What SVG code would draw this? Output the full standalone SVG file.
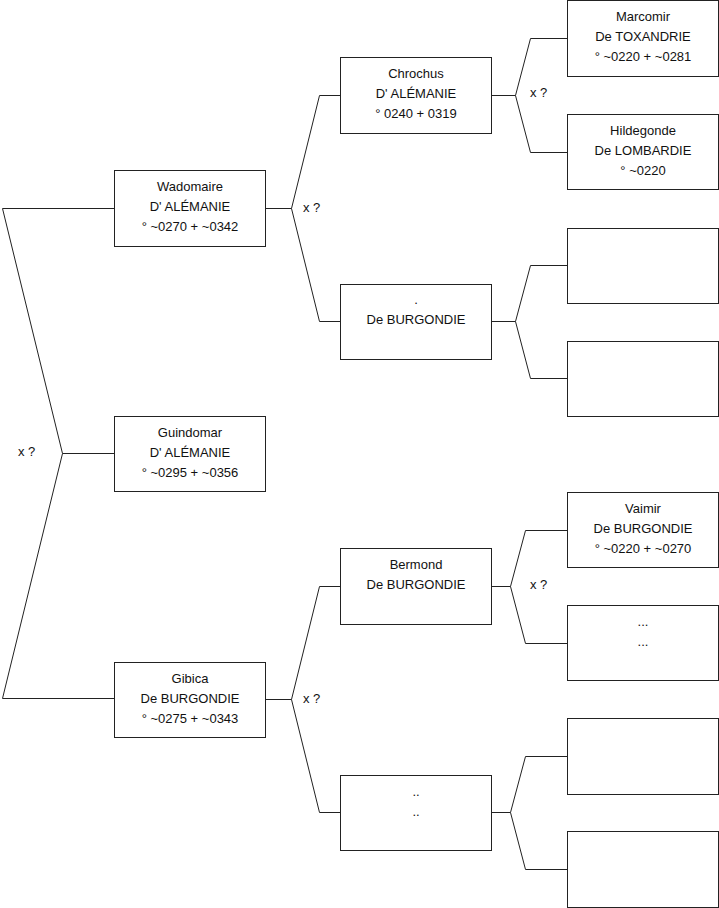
<svg xmlns="http://www.w3.org/2000/svg" width="719" height="908" viewBox="0 0 719 908">
<style>
.box{fill:#fff;stroke:#222;stroke-width:1}
.ln{fill:none;stroke:#222;stroke-width:1}
text{font-family:"Liberation Sans",Arial,sans-serif;font-size:13px;fill:#111}
.c{text-anchor:middle}
</style>
<rect width="719" height="908" fill="#fff"/>
<g id="connectors">
<path class="ln" d="M114.5,208.5 H2.5 L62.5,453.5 L2.5,698.5 H114.5 M62.5,453.5 H114.5"/>
<path class="ln" d="M265.5,208.5 H291.5 L319.5,95.5 H340.5 M291.5,208.5 L319.5,321.5 H340.5"/>
<path class="ln" d="M491.5,95.5 H515.5 L530.5,38.5 H567.5 M515.5,95.5 L530.5,152.5 H567.5"/>
<path class="ln" d="M491.5,321.5 H515.5 L530.5,265.5 H567.5 M515.5,321.5 L530.5,378.5 H567.5"/>
<path class="ln" d="M265.5,699.5 H291.5 L319.5,586.5 H340.5 M291.5,699.5 L319.5,812.5 H340.5"/>
<path class="ln" d="M491.5,586.5 H510.5 L525.5,530.5 H567.5 M510.5,586.5 L525.5,643.5 H567.5"/>
<path class="ln" d="M491.5,812.5 H510.5 L525.5,756.5 H567.5 M510.5,812.5 L525.5,869.5 H567.5"/>
<text x="18" y="456">x ?</text>
<text x="303" y="212">x ?</text>
<text x="303" y="703">x ?</text>
<text x="530" y="97">x ?</text>
<text x="530" y="589">x ?</text>
</g>
<g id="wadomaire">
<rect class="box" x="114.5" y="170.5" width="151" height="76"/>
<text class="c" x="190" y="191">Wadomaire</text>
<text class="c" x="190" y="211">D' ALÉMANIE</text>
<text class="c" x="190" y="231">° ~0270 + ~0342</text>
</g>
<g id="guindomar">
<rect class="box" x="114.5" y="416.5" width="151" height="75"/>
<text class="c" x="190" y="437">Guindomar</text>
<text class="c" x="190" y="457">D' ALÉMANIE</text>
<text class="c" x="190" y="477">° ~0295 + ~0356</text>
</g>
<g id="gibica">
<rect class="box" x="114.5" y="662.5" width="151" height="75"/>
<text class="c" x="190" y="683">Gibica</text>
<text class="c" x="190" y="703">De BURGONDIE</text>
<text class="c" x="190" y="723">° ~0275 + ~0343</text>
</g>
<g id="chrochus">
<rect class="box" x="340.5" y="57.5" width="151" height="76"/>
<text class="c" x="416" y="78">Chrochus</text>
<text class="c" x="416" y="98">D' ALÉMANIE</text>
<text class="c" x="416" y="118">° 0240 + 0319</text>
</g>
<g id="burgondie1">
<rect class="box" x="340.5" y="284.5" width="151" height="75"/>
<text class="c" x="416" y="304">.</text>
<text class="c" x="416" y="324">De BURGONDIE</text>
</g>
<g id="bermond">
<rect class="box" x="340.5" y="548.5" width="151" height="76"/>
<text class="c" x="416" y="569">Bermond</text>
<text class="c" x="416" y="589">De BURGONDIE</text>
</g>
<g id="dots2">
<rect class="box" x="340.5" y="775.5" width="151" height="75"/>
<text class="c" x="416" y="796">..</text>
<text class="c" x="416" y="816">..</text>
</g>
<g id="marcomir">
<rect class="box" x="567.5" y="0.5" width="151" height="76"/>
<text class="c" x="643" y="21">Marcomir</text>
<text class="c" x="643" y="41">De TOXANDRIE</text>
<text class="c" x="643" y="61">° ~0220 + ~0281</text>
</g>
<g id="hildegonde">
<rect class="box" x="567.5" y="114.5" width="151" height="75"/>
<text class="c" x="643" y="135">Hildegonde</text>
<text class="c" x="643" y="155">De LOMBARDIE</text>
<text class="c" x="643" y="175">° ~0220</text>
</g>
<g id="empty1"><rect class="box" x="567.5" y="228.5" width="151" height="75"/></g>
<g id="empty2"><rect class="box" x="567.5" y="341.5" width="151" height="75"/></g>
<g id="vaimir">
<rect class="box" x="567.5" y="492.5" width="151" height="75"/>
<text class="c" x="643" y="513">Vaimir</text>
<text class="c" x="643" y="533">De BURGONDIE</text>
<text class="c" x="643" y="553">° ~0220 + ~0270</text>
</g>
<g id="dots3">
<rect class="box" x="567.5" y="605.5" width="151" height="75"/>
<text class="c" x="643" y="626">...</text>
<text class="c" x="643" y="646">...</text>
</g>
<g id="empty3"><rect class="box" x="567.5" y="718.5" width="151" height="76"/></g>
<g id="empty4"><rect class="box" x="567.5" y="831.5" width="151" height="76"/></g>
</svg>
